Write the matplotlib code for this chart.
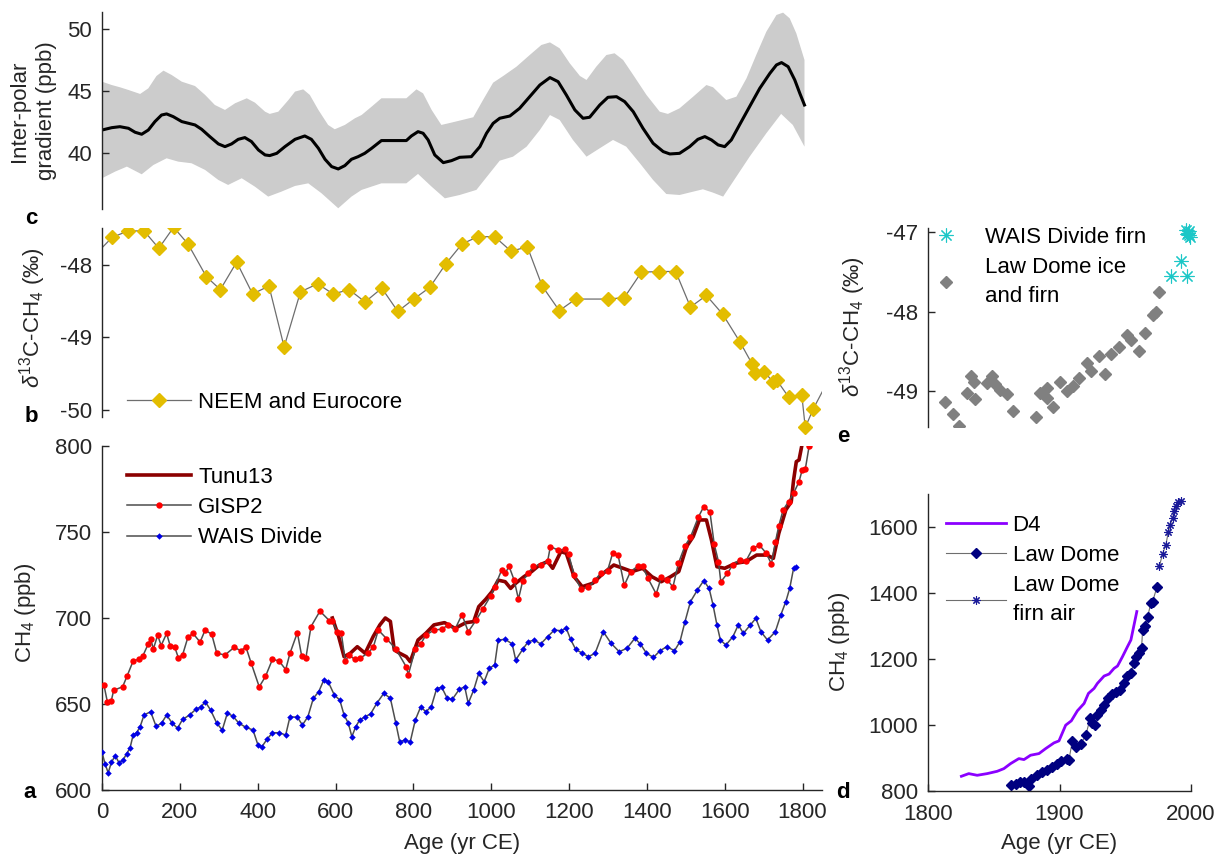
import numpy as np
import matplotlib
matplotlib.use("Agg")
import matplotlib.pyplot as plt

plt.rcParams['font.family'] = ['Liberation Sans', 'DejaVu Sans']
plt.rcParams['mathtext.fontset'] = 'custom'
plt.rcParams['mathtext.rm'] = 'Liberation Sans'
plt.rcParams['mathtext.it'] = 'Liberation Sans:italic'
plt.rcParams['axes.unicode_minus'] = False

W, H = 1226, 856
FS = 16
AX_COL = '#262626'

# ---- panel c: inter-polar gradient ----
c_year = [0, 25, 46, 68, 85, 102, 119, 136, 153, 166, 183, 205, 239, 256, 277, 299, 316,
          333, 350, 367, 384, 402, 419, 431, 449, 470, 496, 521, 538, 556, 573, 590, 607,
          624, 641, 658, 675, 693, 718, 782, 795, 812, 825, 838, 855, 877, 898, 919, 949,
          971, 988, 1005, 1022, 1048, 1073, 1099, 1125, 1151, 1172, 1193, 1215, 1236, 1253,
          1279, 1300, 1322, 1343, 1365, 1390, 1416, 1442, 1459, 1484, 1510, 1531, 1549, 1566,
          1583, 1600, 1617, 1638, 1664, 1690, 1716, 1733, 1746, 1763, 1780, 1793, 1805]
c_mean = [41.85, 42.04, 42.12, 41.99, 41.67, 41.51, 41.85, 42.53, 43.06, 43.15, 42.93, 42.53,
          42.26, 41.91, 41.32, 40.73, 40.51, 40.73, 41.10, 41.24, 40.92, 40.24, 39.84, 39.79,
          39.97, 40.51, 41.10, 41.37, 41.10, 40.38, 39.49, 38.90, 38.71, 38.98, 39.49, 39.70,
          39.97, 40.38, 41.0, 41.0, 41.37, 41.72, 41.59, 41.05, 39.84, 39.22, 39.38, 39.65,
          39.70, 40.51, 41.59, 42.39, 42.80, 42.98, 43.60, 44.54, 45.48, 46.08, 45.75, 44.68,
          43.47, 42.80, 42.88, 43.87, 44.49, 44.54, 44.14, 43.33, 41.99, 40.78, 40.11, 39.92,
          39.97, 40.51, 41.10, 41.32, 41.05, 40.65, 40.51, 41.05, 42.26, 43.74, 45.21, 46.42,
          47.10, 47.29, 46.96, 45.89, 44.81, 43.87]
c_up_year = [0, 25, 46, 68, 98, 119, 140, 158, 179, 205, 239, 265, 290, 316, 342, 372, 393,
             419, 431, 453, 479, 496, 517, 534, 556, 581, 598, 624, 650, 667, 693, 718, 782,
             808, 825, 847, 872, 898, 919, 954, 979, 1005, 1031, 1065, 1099, 1129, 1151, 1176,
             1202, 1228, 1245, 1270, 1296, 1317, 1339, 1365, 1399, 1433, 1454, 1484, 1519,
             1553, 1570, 1604, 1630, 1656, 1681, 1707, 1733, 1750, 1767, 1784, 1805]
c_up = [45.75, 45.48, 45.30, 45.08, 44.76, 45.21, 46.21, 46.64, 46.29, 45.75, 45.40, 44.68,
        43.87, 43.47, 44.01, 44.41, 44.06, 43.33, 43.15, 43.33, 44.27, 44.95, 45.13, 44.68,
        43.47, 42.26, 41.91, 42.26, 42.80, 43.06, 43.74, 44.41, 44.41, 45.13, 44.81, 43.47,
        42.26, 42.45, 42.61, 42.88, 44.27, 45.67, 46.21, 46.96, 47.90, 48.71, 48.92, 48.44,
        47.23, 46.21, 45.89, 46.96, 47.90, 48.04, 47.50, 46.29, 44.68, 43.33, 43.15, 43.60,
        44.54, 45.48, 45.30, 44.27, 44.54, 46.02, 47.90, 49.78, 51.13, 51.32, 50.86, 49.65,
        47.50]
c_lo_year = [0, 34, 64, 102, 132, 166, 196, 230, 265, 299, 324, 359, 393, 427, 461, 496, 530,
             564, 607, 641, 667, 718, 782, 812, 847, 881, 919, 962, 996, 1022, 1056, 1091,
             1125, 1151, 1176, 1210, 1245, 1279, 1313, 1347, 1382, 1416, 1450, 1484, 1519,
             1544, 1570, 1596, 1630, 1664, 1707, 1745, 1775, 1805]
c_lo = [37.96, 38.50, 38.90, 38.28, 39.03, 39.57, 39.30, 39.17, 38.63, 37.82, 37.42, 37.96,
        37.28, 36.48, 36.88, 37.34, 37.55, 36.75, 35.54, 36.48, 37.02, 37.55, 37.55, 38.31,
        37.28, 36.34, 36.61, 37.02, 38.36, 39.38, 39.70, 40.51, 41.85, 43.06, 42.66, 41.05,
        39.70, 40.38, 41.05, 40.51, 39.17, 37.82, 36.69, 36.61, 36.88, 37.07, 36.80, 36.48,
        38.09, 39.70, 41.59, 43.15, 42.26, 40.51]

# ---- panel b: NEEM and Eurocore d13C ----
b_year = [-25, 26, 67, 108, 146, 184, 221, 268, 304, 346, 387, 429, 468, 510, 554, 594, 635,
          676, 719, 760, 801, 842, 884, 925, 966, 1009, 1051, 1093, 1131, 1175, 1217, 1301,
          1342, 1386, 1431, 1474, 1512, 1553, 1595, 1639, 1671, 1678, 1702, 1723, 1734, 1764,
          1798, 1807, 1828, 1875]
b_d13c = [-47.9, -47.62, -47.53, -47.53, -47.77, -47.48, -47.71, -48.16, -48.34, -47.96,
          -48.40, -48.29, -49.13, -48.37, -48.26, -48.40, -48.34, -48.51, -48.32, -48.64,
          -48.47, -48.31, -47.98, -47.71, -47.61, -47.61, -47.81, -47.75, -48.29, -48.63,
          -48.47, -48.47, -48.45, -48.10, -48.09, -48.09, -48.58, -48.42, -48.68, -49.06,
          -49.37, -49.49, -49.47, -49.61, -49.59, -49.82, -49.79, -50.24, -49.98, -49.5]

# ---- panel a: CH4 ----
gisp_year = [5, 14, 24, 30, 53, 64, 80, 94, 105, 119, 125, 132, 143, 152, 166, 175, 187, 196,
             207, 221, 234, 252, 265, 282, 295, 316, 340, 356, 370, 383, 404, 420, 438, 455,
             472, 483, 502, 513, 524, 537, 560, 584, 592, 605, 615, 625, 635, 649, 662, 683,
             697, 710, 731, 755, 782, 787, 805, 819, 832, 853, 873, 890, 907, 925, 941, 962,
             978, 999, 1009, 1027, 1036, 1046, 1059, 1070, 1081, 1095, 1108, 1127, 1145, 1152,
             1172, 1190, 1199, 1213, 1231, 1250, 1267, 1281, 1299, 1312, 1326, 1342, 1358,
             1376, 1389, 1403, 1424, 1437, 1453, 1467, 1481, 1498, 1512, 1532, 1546, 1562,
             1573, 1584, 1590, 1607, 1621, 1639, 1655, 1672, 1689, 1707, 1720, 1730, 1739,
             1750, 1764, 1777, 1791, 1799, 1807, 1817]
gisp_ch4 = [661, 651, 652, 658, 660, 666, 675, 676, 678, 685, 688, 682, 690, 684, 691, 684,
            683, 677, 678.5, 689, 691, 686, 693, 690.5, 679.5, 678.5, 683, 681, 683, 674, 660,
            666, 676, 675, 670, 679.5, 691.5, 678, 677, 695, 704, 698.5, 698, 692, 691, 675,
            678.5, 676, 676.5, 679.5, 683, 693, 688, 682, 671.5, 667, 682, 685, 690, 693,
            693.5, 696, 693.5, 702, 692, 699, 705, 713, 718, 728, 726, 730, 722, 711, 721.5,
            726, 730, 731, 733, 741.5, 739.5, 740, 737, 725, 716.7, 718, 722, 726, 727.5,
            737.6, 736.6, 719, 727, 730, 730, 723, 714, 723.6, 722, 718, 731.8, 742, 747,
            758.5, 764.7, 761.8, 743, 732.8, 721, 726, 731, 734, 733.3, 740.5, 742.4, 737.6,
            731.4, 744, 753.5, 762.8, 767.6, 772.5, 779.3, 786, 786.4, 800]

wais_year = [0, 8, 16, 24, 34, 44, 54, 63, 72, 80, 89, 98, 108, 125, 139, 153, 166, 180, 194,
             207, 225, 241, 255, 265, 279, 295, 309, 322, 336, 352, 370, 388, 401, 411, 424,
             438, 455, 472, 483, 502, 515, 529, 543, 557, 570, 581, 597, 611, 622, 633, 642,
             652, 662, 676, 690, 706, 724, 741, 755, 765, 778, 792, 805, 819, 832, 846, 860,
             873, 887, 900, 918, 932, 941, 955, 968, 982, 995, 1009, 1018, 1036, 1054, 1063,
             1081, 1095, 1111, 1127, 1145, 1162, 1179, 1193, 1204, 1217, 1234, 1250, 1267,
             1288, 1308, 1329, 1349, 1369, 1383, 1399, 1417, 1434, 1451, 1471, 1485, 1498,
             1512, 1530, 1546, 1560, 1570, 1580, 1589, 1603, 1621, 1635, 1648, 1666, 1680,
             1693, 1710, 1730, 1744, 1757, 1767, 1777, 1784]
wais_ch4 = [622, 615, 610, 616, 620, 615.7, 617.4, 621, 624.4, 632, 633.3, 636.8, 643.6,
            645.5, 637, 638.8, 643.6, 639, 635.9, 641, 643.6, 646.9, 648.4, 651.4, 646.5,
            638.8, 634.9, 644.6, 643, 638.8, 636.4, 634.9, 626, 625.2, 629.5, 633.3, 633.3,
            632, 642.6, 642.3, 637.8, 642.6, 653.3, 657.2, 664, 663, 655.2, 652.3, 643.6,
            638.8, 631, 636.8, 640.7, 642.6, 644.2, 650.4, 656.2, 653.3, 638.8, 628, 629,
            628, 640.7, 648.4, 645.5, 648.4, 659, 659.7, 653.3, 652.7, 658.5, 660, 650.4,
            658.1, 667.8, 663, 670.7, 672.7, 687.2, 687.6, 684.9, 675.6, 681.8, 686.2, 687.2,
            684.9, 689.1, 693, 692.6, 694, 687.6, 681.8, 679.5, 677.5, 679.5, 692, 685.3,
            680.4, 682.4, 688.2, 685, 679.5, 677.1, 681, 683.3, 681, 686.2, 697.9, 709.5,
            716.3, 721.7, 717.2, 707.6, 696, 687.2, 684.3, 689.1, 696, 691.1, 696, 699.8,
            692, 687.2, 692, 701.7, 709.5, 717.2, 728.9, 729.8]

tunu_year = [592, 608, 622, 638, 656, 676, 697, 714, 728, 741, 751, 765, 782, 792, 812, 832,
             853, 880, 907, 935, 955, 968, 986, 1002, 1018, 1036, 1050, 1063, 1084, 1104, 1124,
             1145, 1158, 1179, 1193, 1213, 1234, 1261, 1288, 1315, 1339, 1362, 1389, 1413,
             1437, 1461, 1482, 1502, 1519, 1535, 1553, 1566, 1580, 1600, 1628, 1655, 1682,
             1709, 1725, 1739, 1757, 1771, 1777, 1784, 1791, 1798]
tunu_ch4 = [700, 689.3, 677.5, 679.5, 683.3, 679.5, 689.3, 696, 700, 698, 681.4, 679.5,
            677.5, 674.6, 687.2, 691.1, 696, 697.3, 694, 697.3, 697.9, 706.6, 710.9, 715.3,
            722, 721.1, 717.2, 720.2, 724, 727, 730.8, 732.8, 728.9, 738.6, 737.6, 724, 718.2,
            720.2, 726, 730.8, 728.9, 727, 728.9, 724, 721.1, 724, 727, 741.5, 747.3, 757,
            757, 745.3, 729.8, 728.9, 731.8, 732.8, 736.6, 736.6, 734.7, 749.2, 762.8, 767.6,
            780.2, 790.9, 791.9, 800]

# ---- panel e: Law Dome / WAIS Divide firn d13C ----
ld_d13c_year = [1812.7, 1819.1, 1823.9, 1829.7, 1832.8, 1835.3, 1835.6, 1845, 1848.8, 1850.6,
                1855.1, 1860.2, 1864.8, 1881.8, 1885.1, 1890.2, 1890.2, 1895.3, 1900.4,
                1905.5, 1910.5, 1914.9, 1920.7, 1924.3, 1930.1, 1934.4, 1939.5, 1945.4,
                1951.2, 1954.3, 1960.6, 1964.9, 1970.8, 1973.3, 1975.9]
ld_d13c = [-49.13, -49.29, -49.44, -49.02, -48.81, -48.88, -49.10, -48.90, -48.81, -48.91,
           -48.99, -49.03, -49.25, -49.33, -49.02, -48.96, -49.09, -49.20, -48.88, -49.00,
           -48.94, -48.84, -48.64, -48.75, -48.56, -48.79, -48.53, -48.44, -48.29, -48.36,
           -48.50, -48.27, -48.04, -48.00, -47.75]
wf_year = [1984.8, 1992.4, 1996.7, 1996.2, 1997.5, 1998.2, 1998.7, 1999.4, 1997.0]
wf_d13c = [-47.55, -47.36, -47.55, -46.97, -47.01, -47.04, -46.99, -47.06, -47.03]

# ---- panel d: industrial-era CH4 ----
d4_year = [1825.4, 1831, 1837.4, 1845, 1852.6, 1857.7, 1862.8, 1869.1, 1873, 1878, 1884.4,
           1889.5, 1895.8, 1899.6, 1904.7, 1909, 1913.6, 1918.7, 1922, 1926.3, 1928.8,
           1933.9, 1937.7, 1941.5, 1944.1, 1947.9, 1951.7, 1954.3, 1958.8]
d4_ch4 = [844.6, 852.7, 847.6, 852.7, 859.7, 867.8, 883, 898.2, 895.2, 908.4, 913.4, 928.6,
          945.8, 951.9, 999.5, 1012.7, 1043, 1065.3, 1095.7, 1110.9, 1126, 1148.4, 1154.4,
          1171.6, 1178.7, 1207.1, 1237.5, 1257.7, 1343.8]
ld_year = [1863.3, 1866.6, 1870, 1873, 1876.7, 1878.5, 1882.6, 1886.9, 1890.7, 1894.5,
           1898.3, 1901.4, 1906, 1907.2, 1909.8, 1912.3, 1916.1, 1920, 1923.3, 1925, 1926.8,
           1928.8, 1931.4, 1933.9, 1937, 1940.3, 1942.8, 1946.1, 1948.7, 1951.7, 1954.3,
           1956.3, 1958.1, 1960.6, 1962.4, 1963.2, 1964.9, 1967, 1969.5, 1970.8, 1974.1]
ld_ch4 = [817.2, 822.3, 827.3, 827.3, 814.2, 837.5, 847.6, 857.7, 864.8, 872.9, 883, 891.1,
          898.2, 895.2, 951.9, 933.7, 941.8, 969.1, 1019.7, 1004.6, 999.5, 1029.9, 1045.1,
          1060.3, 1080.5, 1093.7, 1100.8, 1105.8, 1126, 1148.4, 1156.5, 1186.8, 1207.1,
          1219.2, 1232.4, 1288.1, 1300.3, 1328.6, 1369.1, 1374.2, 1417.7]
firn_year = [1975.9, 1978.4, 1980.9, 1982.7, 1984.2, 1986, 1987.3, 1988.6, 1990.3, 1992.4]
firn_ch4 = [1480.5, 1519, 1546.3, 1583.8, 1607.1, 1627.3, 1647.6, 1662.8, 1675, 1678]


def px_axes(fig, left, top, right, bottom):
    return fig.add_axes([left / W, 1 - bottom / H, (right - left) / W, (bottom - top) / H])


def style(ax, bottom=False):
    for s in ['top', 'right']:
        ax.spines[s].set_visible(False)
    ax.spines['bottom'].set_visible(bottom)
    for s in ['left', 'bottom']:
        ax.spines[s].set_color(AX_COL)
        ax.spines[s].set_linewidth(1.0)
    ax.tick_params(direction='in', length=5, width=1.0, colors=AX_COL, labelsize=FS)
    ax.tick_params(axis='y', pad=7)
    ax.tick_params(axis='x', pad=9)
    if not bottom:
        ax.tick_params(axis='x', bottom=False, labelbottom=False)
    ax.patch.set_alpha(0)


def legend(ax, anchor, **kw):
    opts = dict(loc='upper left', bbox_to_anchor=anchor, frameon=False, fontsize=FS,
                borderpad=0, borderaxespad=0, handlelength=2.9, handletextpad=0.3,
                labelspacing=0.42, numpoints=1)
    opts.update(kw)
    leg = ax.legend(**opts)
    for t in leg.get_texts():
        t.set_linespacing(1.45)
    return leg


fig = plt.figure(figsize=(W / 100, H / 100), dpi=100)

# panel c
axc = px_axes(fig, 102, 12, 822, 209)
axc.fill(c_up_year + c_lo_year[::-1], c_up + c_lo[::-1], color='#cccccc', lw=0)
axc.plot(c_year, c_mean, color='black', lw=2.2)
axc.set_xlim(0, 1850)
axc.set_ylim(35.48, 51.37)
axc.set_yticks([40, 45, 50])
style(axc)

# panel b
axb = px_axes(fig, 102, 228, 822, 439)
axb.plot(b_year, b_d13c, color='#6e6e6e', lw=0.9, marker='D', ms=7.5,
         mfc='#e3bd00', mec='#e3bd00', label='NEEM and Eurocore')
axb.set_xlim(0, 1850)
axb.set_ylim(-50.40, -47.49)
axb.set_yticks([-50, -49, -48])
style(axb)
axb.spines['left'].set_bounds(-50.1, -47.49)
legend(axb, (0.0347, 0.225))

# panel a
axa = px_axes(fig, 102, 446, 822, 790)
axa.plot(tunu_year, tunu_ch4, color='#8b0000', lw=2.6, label='Tunu13', zorder=2)
axa.plot(gisp_year, gisp_ch4, color='#4d4d4d', lw=1.1, marker='o', ms=4.6, mfc='#ff0000',
         mec='#ff0000', mew=0, label='GISP2', zorder=3)
axa.plot(wais_year, wais_ch4, color='#4d4d4d', lw=1.1, marker='D', ms=3.3, mfc='#0000e6',
         mec='#0000e6', mew=0, label='WAIS Divide', zorder=3)
axa.set_xlim(0, 1850)
axa.set_ylim(600, 800)
axa.set_yticks([600, 650, 700, 750, 800])
axa.set_xticks(range(0, 1801, 200))
style(axa, bottom=True)
legend(axa, (0.0347, 0.94))

# panel e
axe = px_axes(fig, 928, 228, 1191, 427)
axe.plot(ld_d13c_year, ld_d13c, ls='none', marker='D', ms=6, color='#808080',
         label='Law Dome ice\nand firn')
axe.plot(wf_year, wf_d13c, ls='none', marker=(8, 2, 0), ms=10, mew=0.8, color='#1cc7c7',
         label='WAIS Divide firn', clip_on=False)
axe.set_xlim(1800, 2000)
axe.set_ylim(-49.45, -46.95)
axe.set_yticks([-49, -48, -47])
style(axe)
h, l = axe.get_legend_handles_labels()
legend(axe, (0.027, 1.005), handles=h[::-1], labels=l[::-1], handlelength=1.0,
       handletextpad=1.25)

# panel d
axd = px_axes(fig, 928, 494, 1191, 791)
axd.plot(d4_year, d4_ch4, color='#8b00ff', lw=2.0, label='D4')
axd.plot(ld_year, ld_ch4, color='#6e6e6e', lw=0.8, marker='D', ms=5, mfc='#000080',
         mec='#000080', label='Law Dome')
axd.plot(firn_year, firn_ch4, color='#6e6e6e', lw=0.8, marker=(8, 2, 0), ms=6, mew=0.8,
         mec='#1a1a99', label='Law Dome\nfirn air')
axd.set_xlim(1800, 2000)
axd.set_ylim(800, 1700)
axd.set_yticks([800, 1000, 1200, 1400, 1600])
axd.set_xticks([1800, 1900, 2000])
style(axd, bottom=True)
legend(axd, (0.068, 0.93), handlelength=2.7)

# axis labels
txt = dict(color=AX_COL, fontsize=FS, rotation=90, ha='center', va='center')
fig.text(33 / W, 1 - 111 / H, 'Inter-polar\ngradient (ppb)', multialignment='center',
         linespacing=1.35, **txt)
fig.text(33 / W, 1 - 318 / H, r'$\delta^{13}$C-CH$_4$ (‰)', **txt)
fig.text(26 / W, 1 - 613 / H, r'CH$_4$ (ppb)', **txt)
fig.text(853 / W, 1 - 327 / H, r'$\delta^{13}$C-CH$_4$ (‰)', **txt)
fig.text(840 / W, 1 - 642 / H, r'CH$_4$ (ppb)', **txt)
fig.text(462 / W, 1 - 843 / H, 'Age (yr CE)', color=AX_COL, fontsize=FS, ha='center',
         va='center')
fig.text(1059 / W, 1 - 843 / H, 'Age (yr CE)', color=AX_COL, fontsize=FS, ha='center',
         va='center')

# panel letters
for letter, x, y in [('c', 31, 218), ('b', 31, 417), ('a', 30, 792), ('e', 843, 436),
                     ('d', 843, 792)]:
    fig.text(x / W, 1 - y / H, letter, fontsize=FS, fontweight='bold', ha='center',
             va='center', color='black')

fig.savefig('out.png', dpi=100)
